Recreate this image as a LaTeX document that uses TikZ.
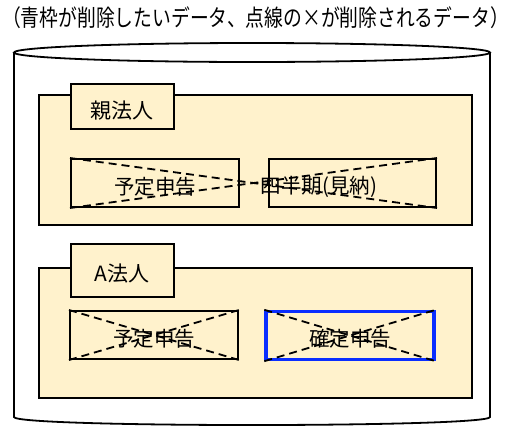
\documentclass[tikz,border=0pt]{standalone}
\usepackage{fontspec}
\setmainfont{Noto Sans CJK JP}
\newfontfamily\titlefont[FakeStretch=0.81]{Noto Sans CJK JP}
\newcommand\hw[1]{{\addfontfeatures{RawFeature=+halt}#1}}
\definecolor{panelfill}{HTML}{FFF2CC}
\definecolor{selblue}{HTML}{0A2EFF}
\begin{document}
\begin{tikzpicture}[x=1pt,y=-1pt,
  panel/.style={draw=black, line width=1.8pt, fill=panelfill, inner sep=0pt},
  tabbox/.style={draw=black, line width=2pt, fill=panelfill, inner sep=0pt},
  rec/.style={draw=black, line width=2pt, fill=panelfill, inner sep=0pt, minimum width=168pt, minimum height=48pt},
  selrec/.style={rec, draw=selblue, line width=3.4pt},
  lbl/.style={font=\fontsize{20.5}{24}\selectfont, inner sep=0pt},
  xline/.style={dash pattern=on 8pt off 5pt, line width=1.8pt}
]
\useasboundingbox (0,0) rectangle (512,429);
% title
\node[font=\titlefont\fontsize{23.2}{26}\selectfont, inner sep=0pt] (title) at (255.5,18) {\hw{（}青枠が削除したいデータ、点線の×が削除されるデータ\hw{）}};
% cylinder
\path[fill=white, draw=black, line width=1.8pt] (14,52.5) -- (14,417) .. controls (14,427.7) and (490,427.7) .. (490,417) -- (490,52.5);
\draw[line width=1.8pt, fill=white] (252,52.5) ellipse [x radius=238, y radius=9.5];
% panel 1
\node[panel, minimum width=433pt, minimum height=130pt] (p1) at (255.5,160) {};
\node[tabbox, minimum width=103pt, minimum height=45pt] (t1) at (122.5,106.8) {};
\node[lbl, font=\fontsize{21}{24}\selectfont] (t1l) at (122,111) {親法人};
\node[rec] (a1) at (155,183) {};
\node[rec, minimum width=167pt] (b1) at (352.5,183) {};
\node[lbl] (a1l) at (155,187) {予定申告};
\node[lbl] (b1l) at (319,187) {四半期(見納)};
\draw[xline] (a1.north west) -- (b1.south east);
\draw[xline] (a1.south west) -- (b1.north east);
% panel 2
\node[panel, minimum width=433pt, minimum height=130pt] (p2) at (255.5,333) {};
\node[tabbox, minimum width=103pt, minimum height=52.5pt] (t2) at (122.5,270.5) {};
\node[lbl, font=\fontsize{21}{24}\selectfont] (t2l) at (122,274) {A法人};
\node[rec] (a2) at (154,335) {};
\node[selrec] (b2) at (350,335.5) {};
\node[lbl] (a2l) at (154,339) {予定申告};
\node[lbl] (b2l) at (350,339) {確定申告};
\draw[xline] (a2.north west) -- (a2.south east);
\draw[xline] (a2.south west) -- (a2.north east);
\draw[xline] (b2.north west) -- (b2.south east);
\draw[xline] (b2.south west) -- (b2.north east);
\end{tikzpicture}
\end{document}
